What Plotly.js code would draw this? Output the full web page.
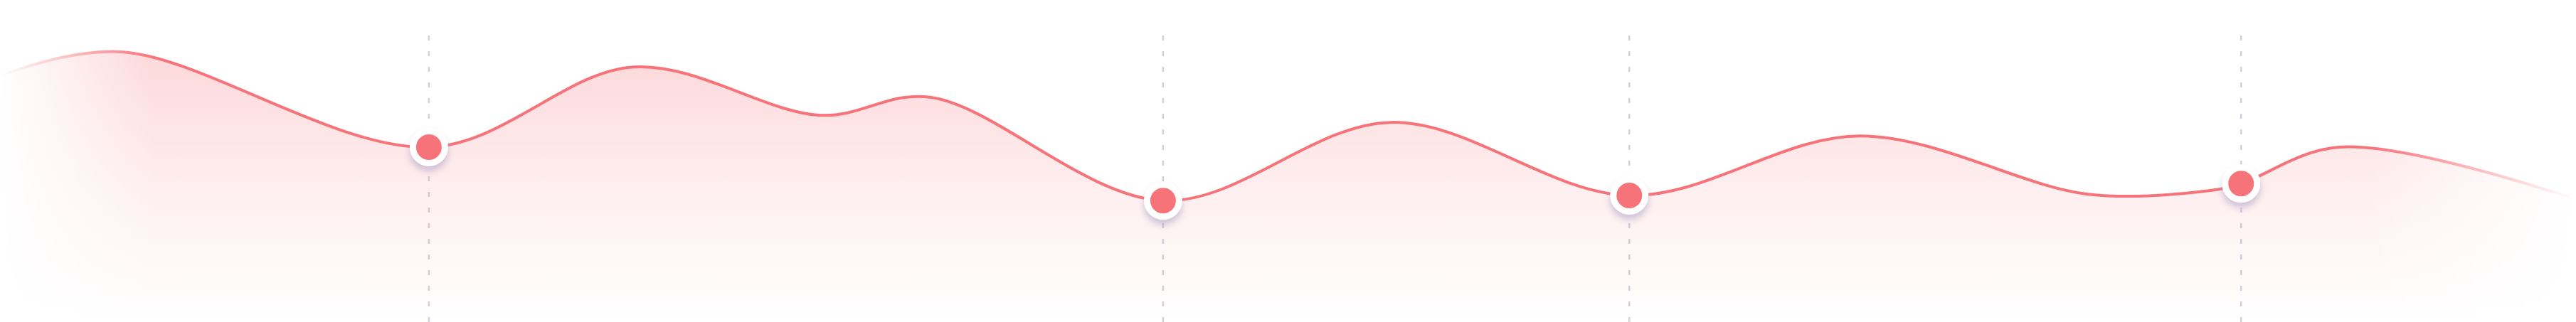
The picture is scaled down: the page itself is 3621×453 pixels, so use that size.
<!DOCTYPE html>
<html>
<head>
<meta charset="utf-8">
<script src="https://cdn.plot.ly/plotly-3.0.1.min.js"></script>
<style>
  html, body { margin: 0; padding: 0; background: #fff; }
  #wave {
    width: 3621px; height: 453px;
    -webkit-mask-image: linear-gradient(to right, transparent 0%, #000 6%, #000 92%, transparent 100%);
    mask-image: linear-gradient(to right, transparent 0%, #000 6%, #000 92%, transparent 100%);
  }
  /* soft shadow under the point markers */
  #wave .scatterlayer .trace:last-child .point {
    filter: drop-shadow(0px 7px 5px rgba(150, 140, 185, 0.45));
  }
</style>
</head>
<body>
<div id="wave"></div>
<script>
// curve (x: 0-100 across, y: 0-100 up)
var xs = [0, 4.7, 16.65, 24.6, 31.85, 36.1, 45.15, 54.0, 63.25, 72.2, 81.05, 85.75, 87.0, 90.8, 100]
var ys = [76.4, 83.9, 54.3, 79.2, 64.2, 69.8, 37.7, 62.0, 39.3, 57.8, 39.7, 40.8, 43.0, 54.3, 38.2]

// highlighted points
var point_x = [16.65, 45.15, 63.25, 87.0]
var point_y = [54.3, 37.7, 39.3, 43.0]

var red = '#f7737a'

var data = [
  {
    type: 'scatter',
    mode: 'lines',
    x: xs,
    y: ys,
    line: {shape: 'spline', smoothing: 1, color: red, width: 4},
    fill: 'tozeroy',
    fillgradient: {
      type: 'vertical',
      start: 0,
      stop: 84,
      colorscale: [[0, 'rgba(247,115,122,0)'], [0.5, 'rgba(247,115,122,0.12)'], [1, 'rgba(247,115,122,0.28)']]
    },
    hoverinfo: 'skip'
  },
  {
    type: 'scatter',
    mode: 'markers',
    x: point_x,
    y: point_y,
    marker: {size: 45, color: red, line: {color: '#ffffff', width: 9}},
    hoverinfo: 'skip'
  }
];

var shapes = []
for (var i = 0; i < point_x.length; i++) {
  shapes.push({
    type: 'line',
    xref: 'x', yref: 'paper',
    x0: point_x[i], x1: point_x[i],
    y0: 0, y1: 0.89,
    layer: 'below',
    line: {color: '#d4cfdd', width: 2.5, dash: '7px,15px'}
  });
}

var layout = {
  width: 3621,
  height: 453,
  margin: {t: 0, b: 0, l: 0, r: 0},
  showlegend: false,
  paper_bgcolor: '#ffffff',
  plot_bgcolor: 'rgba(0,0,0,0)',
  xaxis: {range: [0, 100], visible: false, fixedrange: true},
  yaxis: {range: [0, 100], visible: false, fixedrange: true},
  shapes: shapes
};

Plotly.newPlot('wave', data, layout, {displayModeBar: false, staticPlot: true});
</script>
</body>
</html>
